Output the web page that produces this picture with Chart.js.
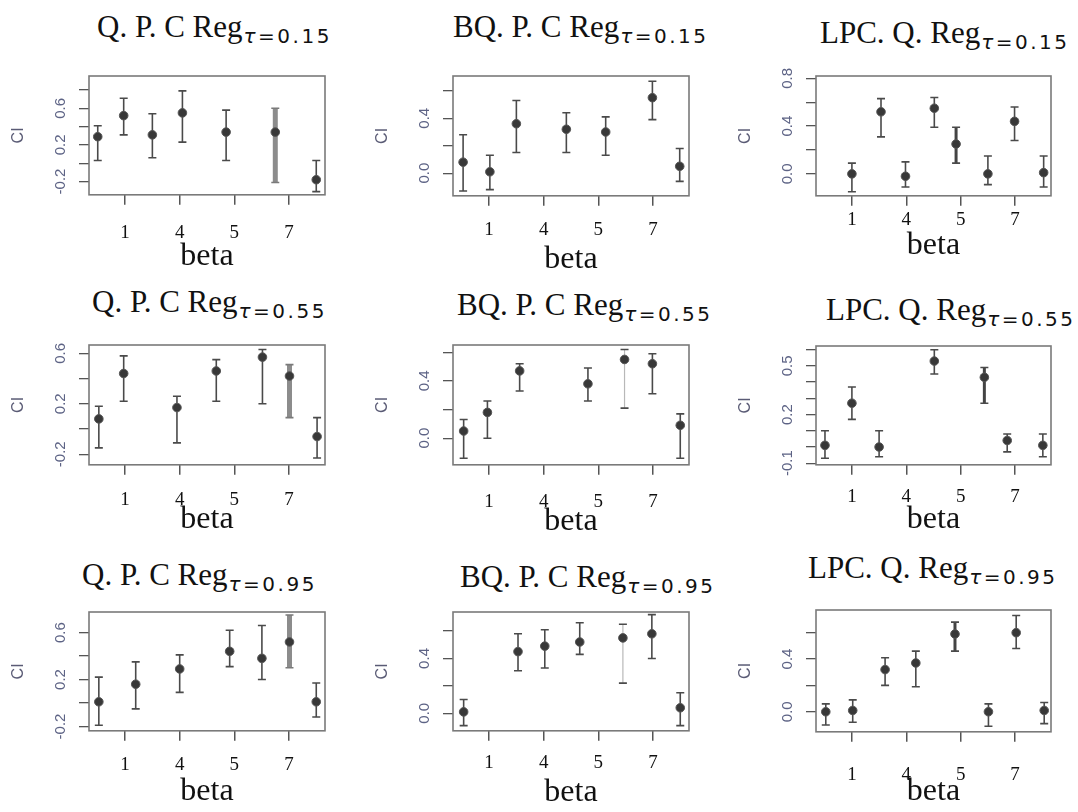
<!DOCTYPE html>
<html>
<head>
<meta charset="utf-8">
<script src="https://cdn.jsdelivr.net/npm/chart.js@4.4.1/dist/chart.umd.min.js"></script>
<style>
    body { margin: 0; background: #fff; }
    #sheet { position: relative; width: 1078px; height: 812px; overflow: hidden; background: #fff; }
    #sheet canvas { position: absolute; }
    .ttl { position: absolute; white-space: nowrap; line-height: 1; color: #111;
           font-family: "Liberation Serif", serif; font-size: 31px; }
    .ttl .sub { font-family: "DejaVu Sans", sans-serif; font-size: 20px; letter-spacing: 2.5px;
                vertical-align: -6px; margin-left: 1px; }
    .ttl .tau { font-style: italic; }
</style>
</head>
<body>
<div id="sheet"></div>
<script>
// x axis shared by all nine plots (R tick marks at 2,4,6,8, relabelled in the figure)
const xTickValues = [2, 4, 6, 8];
const xTickLabels = ['1', '4', '5', '7'];

// Q.P.C Reg, tau = 0.15
const qpc15Beta = [1, 1.95, 3, 4.1, 5.7, 7.5, 9];
const qpc15Est  = [0.29, 0.52, 0.31, 0.55, 0.34, 0.34, -0.18];
const qpc15Low  = [0.03, 0.31, 0.06, 0.23, 0.03, -0.21, -0.31];
const qpc15High = [0.41, 0.71, 0.54, 0.79, 0.58, 0.60, 0.03];
const qpc15YTicks  = [-0.2, 0, 0.2, 0.4, 0.6, 0.8];
const qpc15YLabels = ['-0.2', '', '0.2', '', '0.6', ''];

// BQ.P.C Reg, tau = 0.15
const bqpc15Beta = [1.05, 2.03, 3, 4.83, 6.27, 7.98, 8.98];
const bqpc15Est  = [0.08, 0.01, 0.36, 0.32, 0.30, 0.55, 0.05];
const bqpc15Low  = [-0.13, -0.12, 0.15, 0.15, 0.13, 0.39, -0.06];
const bqpc15High = [0.28, 0.13, 0.53, 0.44, 0.41, 0.67, 0.18];
const bqpc15YTicks  = [0, 0.2, 0.4, 0.6];
const bqpc15YLabels = ['0.0', '', '0.4', ''];

// LPC.Q.Reg, tau = 0.15
const lpc15Beta = [2, 3.07, 3.97, 5.03, 5.83, 7, 7.98, 9.05];
const lpc15Est  = [0, 0.52, -0.02, 0.55, 0.25, 0, 0.44, 0.01];
const lpc15Low  = [-0.15, 0.31, -0.11, 0.39, 0.09, -0.09, 0.28, -0.11];
const lpc15High = [0.09, 0.63, 0.10, 0.64, 0.39, 0.15, 0.56, 0.15];
const lpc15YTicks  = [0, 0.2, 0.4, 0.6, 0.8];
const lpc15YLabels = ['0.0', '', '0.4', '', '0.8'];

// Q.P.C Reg, tau = 0.55
const qpc55Beta = [1.04, 1.95, 3.9, 5.34, 7.03, 8.02, 9.03];
const qpc55Est  = [0.08, 0.44, 0.17, 0.46, 0.57, 0.42, -0.06];
const qpc55Low  = [-0.15, 0.22, -0.11, 0.22, 0.20, 0.09, -0.23];
const qpc55High = [0.18, 0.58, 0.26, 0.55, 0.63, 0.51, 0.09];
const qpc55YTicks  = [-0.2, 0, 0.2, 0.4, 0.6];
const qpc55YLabels = ['-0.2', '', '0.2', '', '0.6'];

// BQ.P.C Reg, tau = 0.55
const bqpc55Beta = [1.07, 1.94, 3.12, 5.62, 6.96, 7.98, 9];
const bqpc55Est  = [0.05, 0.18, 0.47, 0.38, 0.55, 0.52, 0.09];
const bqpc55Low  = [-0.14, 0, 0.33, 0.26, 0.21, 0.31, -0.14];
const bqpc55High = [0.13, 0.26, 0.52, 0.49, 0.62, 0.59, 0.17];
const bqpc55YTicks  = [0, 0.2, 0.4, 0.6];
const bqpc55YLabels = ['0.0', '', '0.4', ''];

// LPC.Q.Reg, tau = 0.55
const lpc55Beta = [1.01, 2, 3, 5.03, 6.87, 7.71, 9.02];
const lpc55Est  = [0.01, 0.27, 0, 0.53, 0.43, 0.04, 0.01];
const lpc55Low  = [-0.07, 0.17, -0.06, 0.45, 0.27, -0.03, -0.06];
const lpc55High = [0.10, 0.37, 0.10, 0.60, 0.49, 0.08, 0.08];
const lpc55YTicks  = [-0.1, 0, 0.1, 0.2, 0.3, 0.4, 0.5, 0.6];
const lpc55YLabels = ['-0.1', '', '', '0.2', '', '', '0.5', ''];

// Q.P.C Reg, tau = 0.95
const qpc95Beta = [1.04, 2.39, 4, 5.83, 7.01, 8.02, 9];
const qpc95Est  = [0.01, 0.16, 0.29, 0.44, 0.38, 0.52, 0.01];
const qpc95Low  = [-0.19, -0.05, 0.09, 0.31, 0.20, 0.30, -0.12];
const qpc95High = [0.22, 0.35, 0.41, 0.62, 0.66, 0.75, 0.17];
const qpc95YTicks  = [-0.2, 0, 0.2, 0.4, 0.6];
const qpc95YLabels = ['-0.2', '', '0.2', '', '0.6'];

// BQ.P.C Reg, tau = 0.95
const bqpc95Beta = [1.07, 3.06, 4.04, 5.32, 6.9, 7.96, 9];
const bqpc95Est  = [0.01, 0.45, 0.49, 0.52, 0.55, 0.58, 0.04];
const bqpc95Low  = [-0.09, 0.31, 0.33, 0.43, 0.22, 0.40, -0.09];
const bqpc95High = [0.10, 0.58, 0.61, 0.66, 0.65, 0.72, 0.15];
const bqpc95YTicks  = [0, 0.2, 0.4, 0.6];
const bqpc95YLabels = ['0.0', '', '0.4', ''];

// LPC.Q.Reg, tau = 0.95
const lpc95Beta = [1.04, 2.03, 3.22, 4.35, 5.79, 7.02, 8.04, 9.07];
const lpc95Est  = [0, 0.01, 0.32, 0.37, 0.59, 0, 0.60, 0.01];
const lpc95Low  = [-0.10, -0.08, 0.20, 0.19, 0.46, -0.11, 0.48, -0.09];
const lpc95High = [0.06, 0.09, 0.41, 0.46, 0.68, 0.06, 0.73, 0.07];
const lpc95YTicks  = [0, 0.2, 0.4, 0.6];
const lpc95YLabels = ['0.0', '', '0.4', ''];

// box = plot frame in page pixels, labOff/betaOff = distance of tick labels / "beta" below the frame
const panels = [
    { name: 'Q. P. C Reg',  tau: '0.15', beta: qpc15Beta,  est: qpc15Est,  low: qpc15Low,  high: qpc15High,  yTicks: qpc15YTicks,  yLabels: qpc15YLabels,  yMin: -0.345, yMax: 0.953,
      box: { x: 89,  y: 76,  w: 236, h: 119 }, title: { x: 97,  base: 37 },  labOff: 38, betaOff: 62, heavy: [5], bold: [], light: [] },
    { name: 'BQ. P. C Reg', tau: '0.15', beta: bqpc15Beta, est: bqpc15Est, low: bqpc15Low, high: bqpc15High, yTicks: bqpc15YTicks, yLabels: bqpc15YLabels, yMin: -0.165, yMax: 0.708,
      box: { x: 453, y: 76,  w: 236, h: 120 }, title: { x: 453, base: 37 },  labOff: 34, betaOff: 64, heavy: [], bold: [], light: [] },
    { name: 'LPC. Q. Reg',  tau: '0.15', beta: lpc15Beta,  est: lpc15Est,  low: lpc15Low,  high: lpc15High,  yTicks: lpc15YTicks,  yLabels: lpc15YLabels,  yMin: -0.184, yMax: 0.82,
      box: { x: 816, y: 76,  w: 235, h: 120 }, title: { x: 820, base: 43 },  labOff: 24, betaOff: 50, heavy: [], bold: [4], light: [] },
    { name: 'Q. P. C Reg',  tau: '0.55', beta: qpc55Beta,  est: qpc55Est,  low: qpc55Low,  high: qpc55High,  yTicks: qpc55YTicks,  yLabels: qpc55YLabels,  yMin: -0.284, yMax: 0.666,
      box: { x: 89,  y: 345, w: 236, h: 120 }, title: { x: 92,  base: 312 }, labOff: 35, betaOff: 55, heavy: [5], bold: [], light: [] },
    { name: 'BQ. P. C Reg', tau: '0.55', beta: bqpc55Beta, est: bqpc55Est, low: bqpc55Low, high: bqpc55High, yTicks: bqpc55YTicks, yLabels: bqpc55YLabels, yMin: -0.186, yMax: 0.651,
      box: { x: 453, y: 345, w: 236, h: 120 }, title: { x: 457, base: 315 }, labOff: 37, betaOff: 57, heavy: [], bold: [], light: [4] },
    { name: 'LPC. Q. Reg',  tau: '0.55', beta: lpc55Beta,  est: lpc55Est,  low: lpc55Low,  high: lpc55High,  yTicks: lpc55YTicks,  yLabels: lpc55YLabels,  yMin: -0.11,  yMax: 0.623,
      box: { x: 816, y: 346, w: 235, h: 119 }, title: { x: 826, base: 320 }, labOff: 32, betaOff: 55, heavy: [], bold: [4], light: [] },
    { name: 'Q. P. C Reg',  tau: '0.95', beta: qpc95Beta,  est: qpc95Est,  low: qpc95Low,  high: qpc95High,  yTicks: qpc95YTicks,  yLabels: qpc95YLabels,  yMin: -0.237, yMax: 0.775,
      box: { x: 89,  y: 612, w: 236, h: 119 }, title: { x: 82,  base: 585 }, labOff: 34, betaOff: 61, heavy: [5], bold: [], light: [] },
    { name: 'BQ. P. C Reg', tau: '0.95', beta: bqpc95Beta, est: bqpc95Est, low: bqpc95Low, high: bqpc95High, yTicks: bqpc95YTicks, yLabels: bqpc95YLabels, yMin: -0.128, yMax: 0.739,
      box: { x: 453, y: 612, w: 236, h: 119 }, title: { x: 460, base: 587 }, labOff: 32, betaOff: 62, heavy: [], bold: [], light: [4] },
    { name: 'LPC. Q. Reg',  tau: '0.95', beta: lpc95Beta,  est: lpc95Est,  low: lpc95Low,  high: lpc95High,  yTicks: lpc95YTicks,  yLabels: lpc95YLabels,  yMin: -0.152, yMax: 0.772,
      box: { x: 816, y: 610, w: 235, h: 122 }, title: { x: 808, base: 578 }, labOff: 43, betaOff: 60, heavy: [], bold: [4], light: [] },
];

const AXIS_W = 80, PAD_TOP = 14, PAD_RIGHT = 6;
const yTickFont  = { family: 'Liberation Sans', size: 15 };
const xTickFont  = { family: 'Liberation Serif', size: 19 };
const betaFont   = { family: 'Liberation Serif', size: 32 };

// frame around the plotting region, R style
const plotBox = {
    id: 'plotBox',
    beforeDatasetsDraw(chart) {
        const { ctx, chartArea: a } = chart;
        ctx.save();
        ctx.strokeStyle = '#7a7a7a';
        ctx.lineWidth = 1.6;
        ctx.strokeRect(a.left, a.top, a.right - a.left, a.bottom - a.top);
        ctx.restore();
    }
};

// vertical interval + caps, positioned through the chart scales
const errorBars = {
    id: 'errorBars',
    beforeDatasetsDraw(chart) {
        const { ctx, scales: { x, y } } = chart;
        chart.data.datasets.forEach(ds => {
            if (!ds.errLow) return;
            ds.data.forEach((pt, i) => {
                const px = x.getPixelForValue(pt.x);
                const lo = y.getPixelForValue(ds.errLow[i]);
                const hi = y.getPixelForValue(ds.errHigh[i]);
                ctx.save();
                if (ds.heavy.includes(i)) { ctx.strokeStyle = '#8c8c8c'; ctx.lineWidth = 5; }
                else if (ds.bold.includes(i)) { ctx.strokeStyle = '#444'; ctx.lineWidth = 3; }
                else if (ds.light.includes(i)) { ctx.strokeStyle = '#b8b8b8'; ctx.lineWidth = 1.2; }
                else { ctx.strokeStyle = '#4a4a4a'; ctx.lineWidth = 1.6; }
                ctx.beginPath();
                ctx.moveTo(px, lo);
                ctx.lineTo(px, hi);
                ctx.stroke();
                ctx.strokeStyle = ds.heavy.includes(i) ? '#7a7a7a' : '#4a4a4a';
                ctx.lineWidth = 1.6;
                ctx.beginPath();
                ctx.moveTo(px - 4, lo); ctx.lineTo(px + 4, lo);
                ctx.moveTo(px - 4, hi); ctx.lineTo(px + 4, hi);
                ctx.stroke();
                ctx.restore();
            });
        });
    }
};

const measureCtx = document.createElement('canvas').getContext('2d');
measureCtx.font = yTickFont.size + 'px "' + yTickFont.family + '"';

function buildPanel(p) {
    const sheet = document.getElementById('sheet');

    // title with subscript tau
    const t = document.createElement('div');
    t.className = 'ttl';
    t.innerHTML = p.name + '<span class="sub"><span class="tau">τ</span>=' + p.tau + '</span>';
    t.style.left = p.title.x + 'px';
    t.style.top = (p.title.base - 26) + 'px';
    sheet.appendChild(t);

    const xTitleHalf = betaFont.size * 1.2 / 2;
    const xAxisH = p.betaOff + xTitleHalf;
    const canvas = document.createElement('canvas');
    canvas.width = AXIS_W + p.box.w + PAD_RIGHT;
    canvas.height = PAD_TOP + p.box.h + xAxisH;
    canvas.style.left = (p.box.x - AXIS_W) + 'px';
    canvas.style.top = (p.box.y - PAD_TOP) + 'px';
    sheet.appendChild(canvas);

    const widest = Math.max(...p.yLabels.map(l => measureCtx.measureText(l).width));
    const yLabPad = 28 - 10 - widest / 2;

    new Chart(canvas.getContext('2d'), {
        type: 'scatter',
        data: {
            datasets: [{
                data: p.beta.map((b, i) => ({ x: b, y: p.est[i] })),
                errLow: p.low,
                errHigh: p.high,
                heavy: p.heavy, bold: p.bold, light: p.light,
                pointRadius: 4.3,
                pointBackgroundColor: '#383838',
                pointBorderColor: '#555',
                pointBorderWidth: 1,
                showLine: false,
            }],
        },
        options: {
            responsive: false,
            devicePixelRatio: 1,
            animation: false,
            layout: { autoPadding: false, padding: { top: PAD_TOP, right: PAD_RIGHT, left: 0, bottom: 0 } },
            plugins: { legend: { display: false }, tooltip: { enabled: false } },
            scales: {
                x: {
                    type: 'linear',
                    min: 0.68, max: 9.32,
                    afterBuildTicks: s => { s.ticks = xTickValues.map(v => ({ value: v })); },
                    afterFit: s => { s.height = xAxisH; s.paddingLeft = 0; s.paddingRight = 0; },
                    grid: { drawOnChartArea: false, tickLength: 10, color: '#555', lineWidth: 1.5 },
                    border: { display: false },
                    ticks: {
                        autoSkip: false, maxRotation: 0, minRotation: 0,
                        color: '#111', font: xTickFont,
                        padding: p.labOff - 10 - xTickFont.size * 1.2 / 2,
                        callback: (v, i) => xTickLabels[i],
                    },
                    title: { display: true, text: 'beta', color: '#111', font: betaFont, padding: { top: 0, bottom: 0 } },
                },
                y: {
                    min: p.yMin, max: p.yMax,
                    afterBuildTicks: s => { s.ticks = p.yTicks.map(v => ({ value: v })); },
                    afterFit: s => { s.width = AXIS_W; s.paddingTop = 0; s.paddingBottom = 0; },
                    grid: { drawOnChartArea: false, tickLength: 10, color: '#555', lineWidth: 1.3 },
                    border: { display: false },
                    ticks: {
                        autoSkip: false, minRotation: 90, maxRotation: 90, crossAlign: 'center',
                        padding: yLabPad, color: '#5d6385', font: yTickFont,
                        callback: (v, i) => p.yLabels[i],
                    },
                    title: { display: true, text: 'CI', color: '#5a5b75', font: { family: 'Liberation Sans', size: 16 }, padding: { top: 0, bottom: 0 } },
                },
            },
        },
        plugins: [plotBox, errorBars],
    });
}

panels.forEach(buildPanel);
</script>
</body>
</html>
